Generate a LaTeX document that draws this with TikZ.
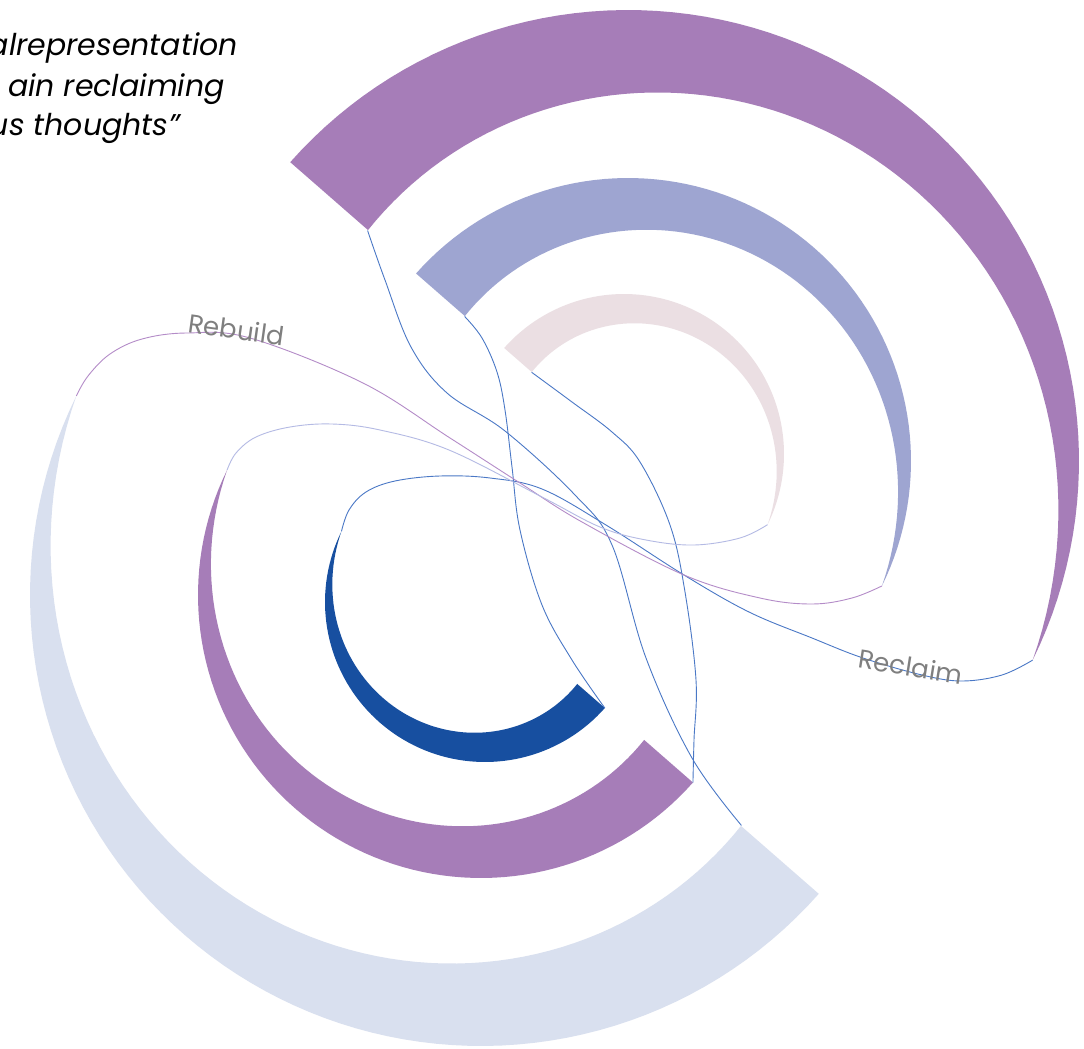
\documentclass[tikz,border=0pt]{standalone}
\usepackage{fontspec}
\setmainfont{Poppins}
\newfontfamily\quotefont{Poppins}
\definecolor{bandpurple}{HTML}{A67DB8}
\definecolor{bandperi}{HTML}{9EA5D1}
\definecolor{bandpink}{HTML}{EBDFE3}
\definecolor{bandlight}{HTML}{D9E0EF}
\definecolor{banddark}{HTML}{174FA0}
\definecolor{linkblue}{HTML}{4A78C6}
\definecolor{linkpurple}{HTML}{B48CC8}
\definecolor{linklav}{HTML}{B4BAE4}
\definecolor{labelgray}{HTML}{7F7F7F}
% #1 cx, #2 cy, #3 R, #4 rotation, #5 colour, #6 name prefix
\newcommand\drawband[6]{%
  \fill[#5] plot[domain=0:1, samples=80, variable=\x]
      ({#1+#3*cos(#4+138.5-164.7*\x)}, {#2-#3*sin(#4+138.5-164.7*\x)})
    -- plot[domain=1:0, samples=80, variable=\x]
      ({#1+#3*(1-0.229*(1-\x)*(1+0.5*\x))*cos(#4+138.5-164.7*\x)},
       {#2-#3*(1-0.229*(1-\x)*(1+0.5*\x))*sin(#4+138.5-164.7*\x)})
    -- cycle;
  \coordinate (#6so) at ({#1+#3*cos(#4+138.5)}, {#2-#3*sin(#4+138.5)});
  \coordinate (#6si) at ({#1+0.771*#3*cos(#4+138.5)}, {#2-0.771*#3*sin(#4+138.5)});
  \coordinate (#6e) at ({#1+#3*cos(#4-26.2)}, {#2-#3*sin(#4-26.2)});
}
\begin{document}
\begin{tikzpicture}[x=1pt,y=-1pt,
  link/.style={line width=0.9pt},
  lbl/.style={text=labelgray, font=\fontsize{26}{30}\selectfont, inner sep=0pt},
  quote/.style={font=\quotefont\itshape\fontsize{30}{36}\selectfont, inner sep=0pt}]
\useasboundingbox (0,0) rectangle (1084,1049);
\fill[white] (0,0) rectangle (1084,1049);

% upper group
\drawband{628}{461}{451}{0}{bandpurple}{P}
\drawband{628}{461}{283}{0}{bandperi}{B}
\drawband{624}{454}{160}{0}{bandpink}{K}
% lower group
\drawband{481}{595}{451}{180}{bandlight}{L}
\drawband{481}{595}{283}{180}{bandpurple}{M}
\drawband{485}{602}{160}{180}{banddark}{D}

% start connectors
\draw[link, linkblue] plot[smooth, tension=0.6] coordinates {(Psi) (385,280) (411,347) (447,393) (505,431) (575,495) (612,545) (646,658) (692,758) (Lsi)};
\draw[link, linkblue] plot[smooth, tension=0.6] coordinates {(Bsi) (482,338) (497,372) (505,410) (512,467) (520,530) (542,605) (572,660) (Dso)};
\draw[link, linkblue] plot[smooth, tension=0.6] coordinates {(Ksi) (572,402) (612,432) (640,462) (670,525) (685,592) (696,680) (694,740) (Mso)};

% end connectors
\draw[link, linkblue] plot[smooth, tension=0.6] coordinates {(De) (349,510) (366,492) (395,481) (440,476) (490,478) (542,489) (606,525) (684,575) (749,612) (812,638) (863,658) (922,675) (962,681) (1002,675) (Pe)};
\draw[link, linkpurple] plot[smooth, tension=0.6] coordinates {(Le) (88,376) (110,354) (142,339) (187,333) (250,338) (363,383) (450,438) (520,483) (582,522) (684,575) (760,598) (812,604) (852,598) (Be)};
\draw[link, linklav] plot[smooth, tension=0.6] coordinates {(Me) (236,453) (256,437) (290,427) (332,424) (380,430) (449,450) (542,497) (600,527) (646,540) (694,545) (740,538) (Ke)};

% labels
\node[lbl, rotate=-8, anchor=base] (rebuild) at (235,339) {Rebuild};
\node[lbl, rotate=-9, anchor=base] (reclaim) at (909,676) {Reclaim};

% quote
\node[quote, anchor=base east] (q1) at (238,56) {alrepresentation};
\node[quote, anchor=base east] (q2) at (225,96) {ain reclaiming};
\node[quote, anchor=base east] (q3) at (180,135) {us thoughts”};
\end{tikzpicture}
\end{document}
